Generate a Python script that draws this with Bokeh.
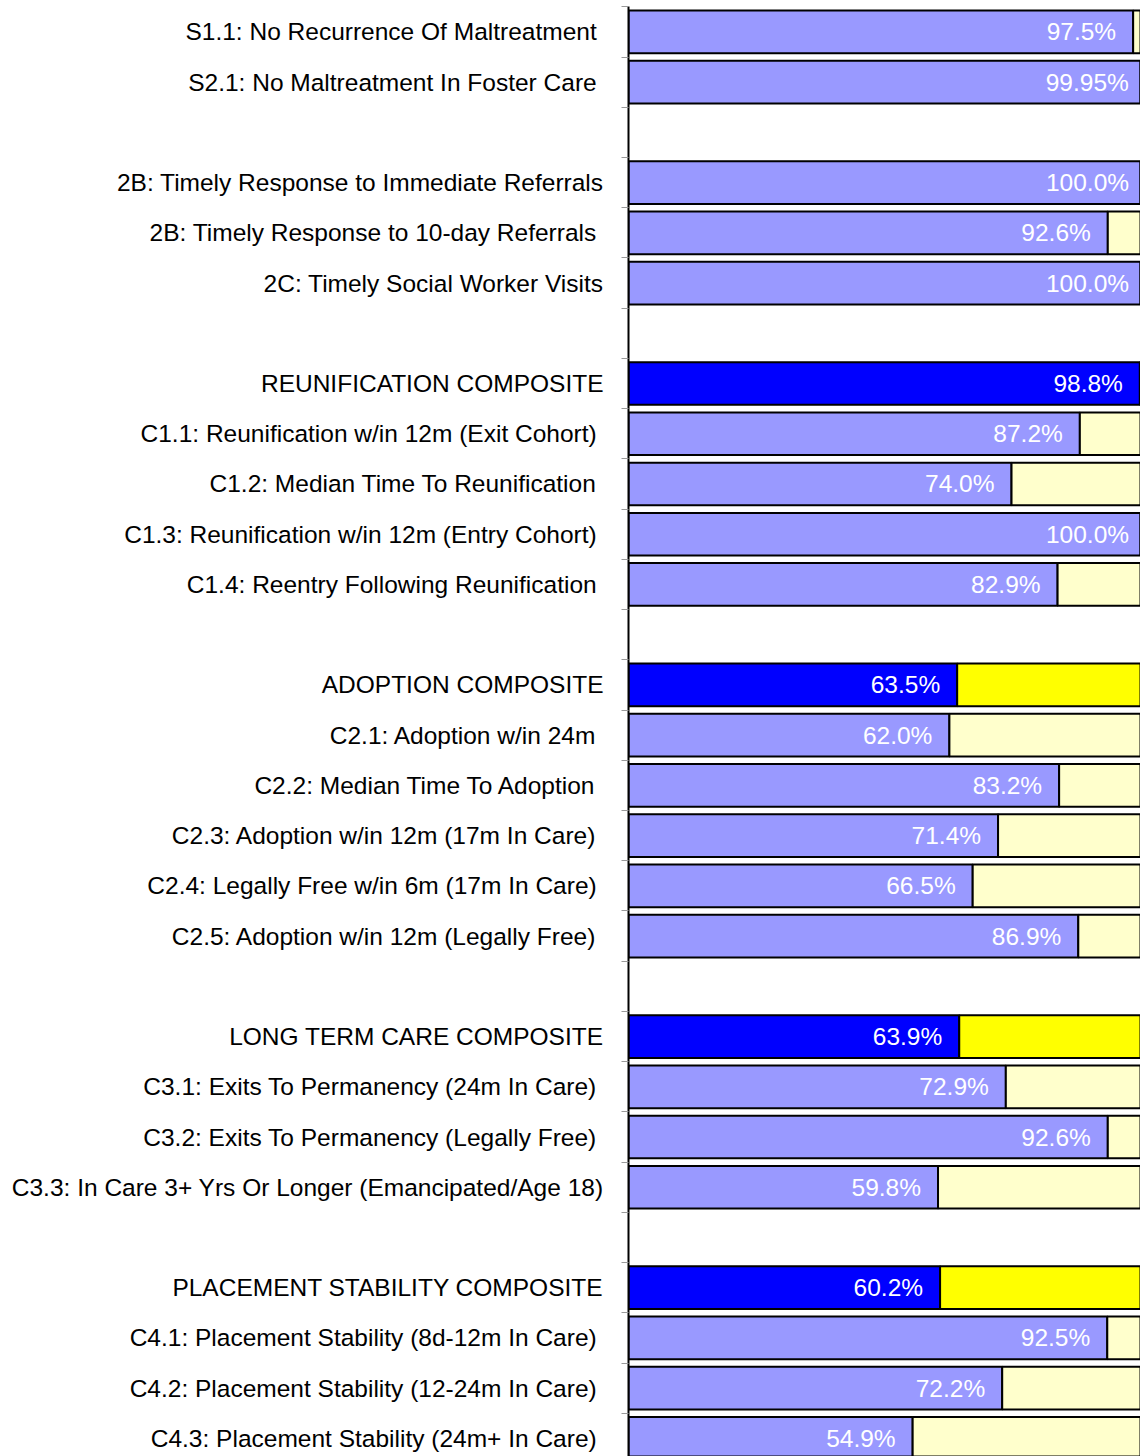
from bokeh.plotting import figure
from bokeh.models import ColumnDataSource, Range1d, FixedTicker
from bokeh.embed import file_html
from bokeh.resources import INLINE
from bokeh.core.properties import value

# ---- data (rows from top to bottom; "" = blank spacer row) ----
labels = [
    "S1.1: No Recurrence Of Maltreatment",
    "S2.1: No Maltreatment In Foster Care",
    "",
    "2B: Timely Response to Immediate Referrals",
    "2B: Timely Response to 10-day Referrals",
    "2C: Timely Social Worker Visits",
    "",
    "REUNIFICATION COMPOSITE",
    "C1.1: Reunification w/in 12m (Exit Cohort)",
    "C1.2: Median Time To Reunification",
    "C1.3: Reunification w/in 12m (Entry Cohort)",
    "C1.4: Reentry Following Reunification",
    "",
    "ADOPTION COMPOSITE",
    "C2.1: Adoption w/in 24m",
    "C2.2: Median Time To Adoption",
    "C2.3: Adoption w/in 12m (17m In Care)",
    "C2.4: Legally Free w/in 6m (17m In Care)",
    "C2.5: Adoption w/in 12m (Legally Free)",
    "",
    "LONG TERM CARE COMPOSITE",
    "C3.1: Exits To Permanency (24m In Care)",
    "C3.2: Exits To Permanency (Legally Free)",
    "C3.3: In Care 3+ Yrs Or Longer (Emancipated/Age 18)",
    "",
    "PLACEMENT STABILITY COMPOSITE",
    "C4.1: Placement Stability (8d-12m In Care)",
    "C4.2: Placement Stability (12-24m In Care)",
    "C4.3: Placement Stability (24m+ In Care)",
]
values = [97.5, 99.95, None, 100.0, 92.6, 100.0, None, 98.8, 87.2, 74.0, 100.0, 82.9, None,
          63.5, 62.0, 83.2, 71.4, 66.5, 86.9, None, 63.9, 72.9, 92.6, 59.8, None,
          60.2, 92.5, 72.2, 54.9]
value_labels = ["97.5%", "99.95%", "", "100.0%", "92.6%", "100.0%", "", "98.8%", "87.2%", "74.0%",
                "100.0%", "82.9%", "", "63.5%", "62.0%", "83.2%", "71.4%", "66.5%", "86.9%", "",
                "63.9%", "72.9%", "92.6%", "59.8%", "", "60.2%", "92.5%", "72.2%", "54.9%"]
composite = [False, False, False, False, False, False, False, True, False, False, False, False, False,
             True, False, False, False, False, False, False, True, False, False, False, False,
             True, False, False, False]
# labels that carry a trailing space in the original (right edge sits a little further left)
trailing_space = [True, True, False, False, True, False, False, False, True, True, True, True, False,
                  False, True, True, True, True, True, False, False, True, True, False, False,
                  False, True, True, True]
total = 100.0

FONT = "Liberation Sans"
FS = "24.5px"

rows = [i for i, v in enumerate(values) if v is not None]
src = ColumnDataSource(dict(
    row=rows,
    val=[values[i] for i in rows],
    lbl=[value_labels[i] for i in rows],
    main=["#0000FF" if composite[i] else "#9999FF" for i in rows],
    rest=["#FFFF00" if composite[i] else "#FFFFCC" for i in rows],
))

p = figure(width=1140, height=1456, output_backend="svg", toolbar_location=None,
           x_range=Range1d(0, 98.92), y_range=Range1d(28.36, -0.625),
           x_axis_location=None, min_border_left=628, min_border_right=0,
           min_border_top=0, min_border_bottom=0)
p.outline_line_color = None
p.grid.visible = False
p.background_fill_color = "white"

p.hbar(y="row", left=0, right="val", height=0.85, fill_color="main", line_color="black",
       line_width=2, source=src)
p.hbar(y="row", left="val", right=total, height=0.85, fill_color="rest", line_color="black",
       line_width=2, source=src)
p.text(x="val", y="row", text="lbl", x_offset=-17, text_align="right", text_baseline="middle",
       text_color="white", text_font=value(FONT), text_font_size=FS, source=src)

ax = p.yaxis[0]
ax.ticker = FixedTicker(ticks=rows, minor_ticks=[i - 0.5 for i in range(len(labels) + 1)])
ax.bounds = (-0.5, len(labels) - 0.5)
ax.major_label_overrides = {i: labels[i] + ("\u00a0" if trailing_space[i] else "") for i in rows}
ax.axis_line_color = "black"
ax.axis_line_width = 2
ax.major_tick_out = 0
ax.major_tick_in = 0
ax.major_tick_line_color = None
ax.minor_tick_out = 7
ax.minor_tick_in = 0
ax.minor_tick_line_color = "#999999"
ax.minor_tick_line_width = 1
ax.major_label_text_font = FONT
ax.major_label_text_font_size = FS
ax.major_label_text_color = "black"
ax.major_label_standoff = 18

open("out.html", "w").write(file_html(p, INLINE))
